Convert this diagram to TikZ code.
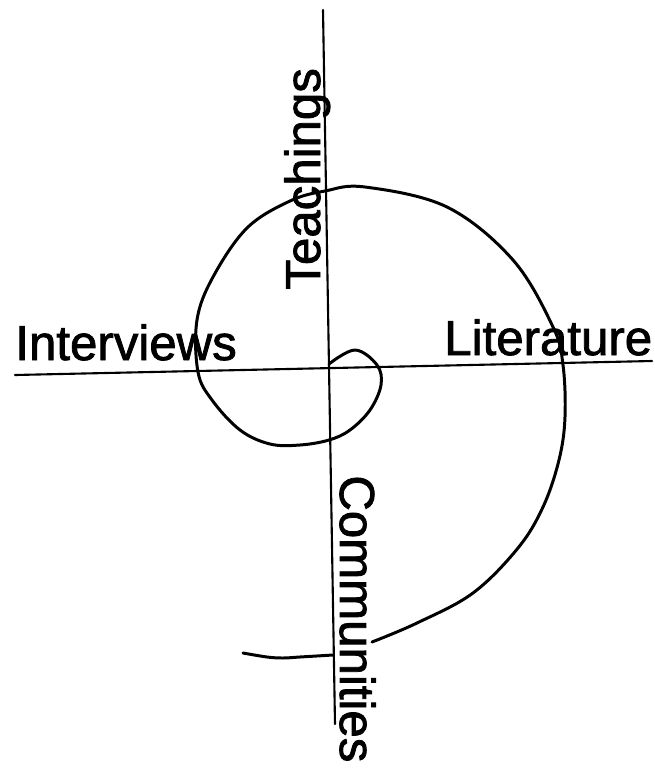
\documentclass[tikz,border=0pt]{standalone}
\usepackage{fontspec}
\setmainfont{Liberation Sans}
\newfontfamily\lblfont{Liberation Sans}[RawFeature={embolden=1.6}]
\usepackage{tikz}
\usetikzlibrary{positioning}

\begin{document}
\begin{tikzpicture}[x=0.02cm,y=-0.02cm,
  lbl/.style={inner sep=0pt,font=\lblfont\fontsize{28}{30}\selectfont},
  axis/.style={line width=1.2pt,line cap=round},
  spiral/.style={line width=1.7pt,line cap=round,line join=round}]
  \useasboundingbox (0,0) rectangle (655,769);
  % axes
  \coordinate (north) at (323,10);
  \coordinate (south) at (335,724);
  \coordinate (west)  at (15,375);
  \coordinate (east)  at (652,361);
  \draw[axis] (north) -- (south);
  \draw[axis] (west) -- (east);
  % labels
  \node[lbl,anchor=base west] (intv) at (15,360) {Interviews};
  \node[lbl,anchor=base west] (lit)  at (444,355) {Literature};
  \node[lbl,anchor=base west,rotate=90]  (teach) at (320,290) {Teachings};
  \node[lbl,anchor=base west,rotate=-90] (comm)  at (340,475) {Communities};
  % spiral
  \draw[spiral] plot[smooth,tension=0.6] coordinates {
    (329,364) (355,350) (377,365) (381,385) (370,410) (350,430)
    (329,440) (300,445) (270,444) (240,430) (212,400) (198,372)
    (197,320) (213,277) (247,228) (290,201) (325,191) (365,187)
    (447,207) (513,260) (553,327) (563,365) (565,417) (559,460)
    (543,507) (518,548) (473,593) (417,623) (372,642)};
  \draw[spiral] plot[smooth,tension=0.6] coordinates {
    (333,655) (300,657) (283,658) (267,657) (243,653)};
\end{tikzpicture}
\end{document}
